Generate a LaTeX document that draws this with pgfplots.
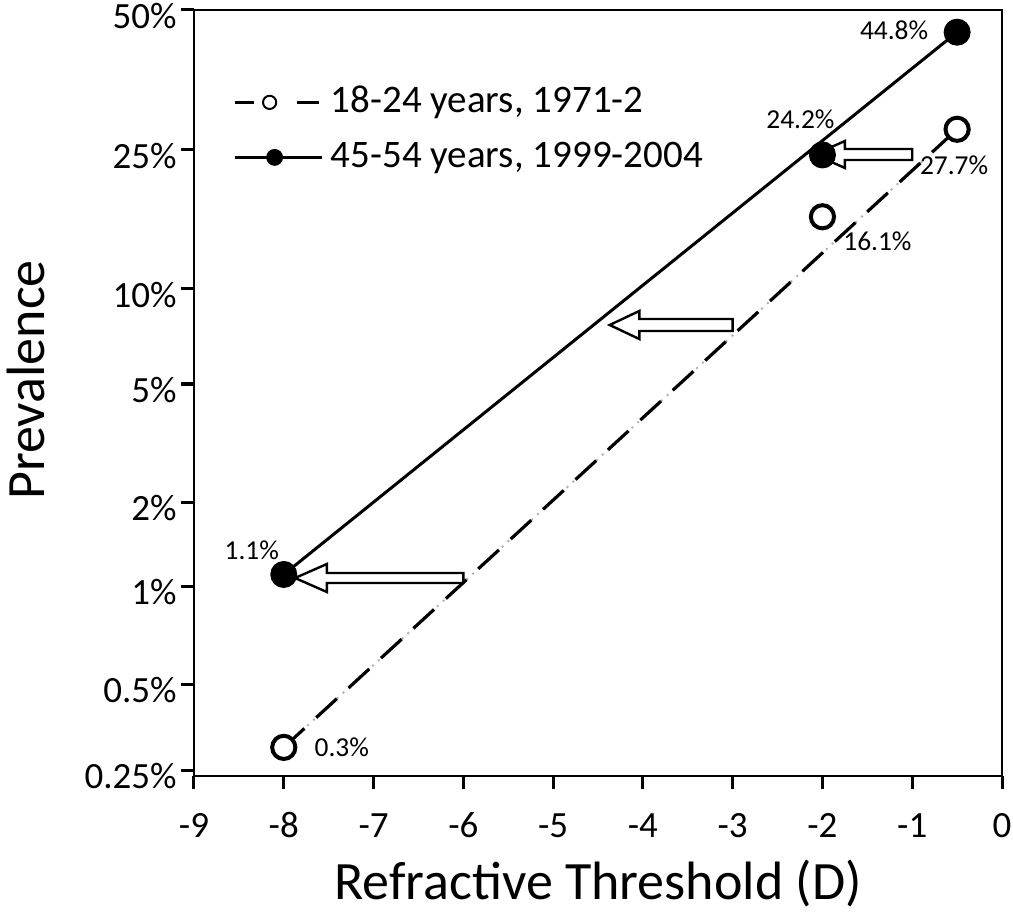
\documentclass[border=0pt]{standalone}
\usepackage{pgfplots}
\pgfplotsset{compat=1.18}
\usepackage{pgfplotstable}
\usepackage{fontspec}
\setmainfont{Carlito}
\tikzset{lab/.style={font=\fontsize{13.7}{15}\selectfont, inner sep=0pt, anchor=center}}

% prevalence (%) -> vertical position of the chart's own (piecewise log) scale
\newcommand\seg[5]{(#4+(#5-#4)*ln((#1)/(#2))/ln((#3)/(#2)))}
\newcommand\ppos[1]{ifthenelse(#1<0.5,\seg{#1}{0.25}{0.5}{6}{92},ifthenelse(#1<1,\seg{#1}{0.5}{1}{92}{190},ifthenelse(#1<2,\seg{#1}{1}{2}{190}{274},ifthenelse(#1<5,\seg{#1}{2}{5}{274}{392},ifthenelse(#1<10,\seg{#1}{5}{10}{392}{487},ifthenelse(#1<25,\seg{#1}{10}{25}{487}{626},\seg{#1}{25}{50}{626}{766}))))))}

% 18-24 years, 1971-2
\pgfplotstableread{
x v
-8 0.3
-2 16.1
-0.5 27.7
}\young
% 45-54 years, 1999-2004
\pgfplotstableread{
x v
-8 1.1
-2 24.2
-0.5 44.8
}\old

\begin{document}
\begin{tikzpicture}
\begin{axis}[name=ax, scale only axis, width=404pt, height=383pt,
  xmin=-9, xmax=0, ymin=0, ymax=766, clip=false,
  axis line style={line width=1.2pt},
  xtick={-9,-8,...,0}, xticklabels={-9,-8,-7,-6,-5,-4,-3,-2,-1,0},
  ytick={6,92,190,274,392,487,626,766},
  yticklabels={0.25\%,0.5\%,1\%,2\%,5\%,10\%,25\%,50\%},
  tick pos=left, tick align=outside, major tick length=6.5pt,
  major tick style={black, line width=1.5pt},
  /pgf/number format/assume math mode=true,
  ticklabel style={font=\fontsize{18.5}{20}\selectfont},
  xticklabel style={anchor=base, inner sep=0pt, yshift=-24pt},
  yticklabel style={anchor=east, inner sep=0pt, xshift=-2pt, yshift=-3pt},
  xlabel={Refractive Threshold (D)},
  ylabel={Prevalence},
  label style={font=\fontsize{27}{30}\selectfont},
  xlabel style={at={(axis description cs:0.5,-0.161)}, anchor=base},
  ylabel style={at={(axis description cs:-0.208,0.517)}, anchor=center},
  legend style={at={(axis description cs:0.0483,0.9034)}, anchor=north west,
    draw=none, fill=none, inner sep=0pt, row sep=9.5pt, column sep=4pt,
    font=\fontsize{19.5}{22}\selectfont,
    nodes={inner sep=0pt, text height=14pt, text depth=4pt}},
  legend cell align=left,
]
\addlegendimage{legend image code/.code={
  \draw[black, line width=1.2pt] (0pt,0pt) -- (9.5pt,0pt);
  \draw[black, line width=1.2pt] (31pt,0pt) -- (42pt,0pt);
  \draw[black, line width=1pt, fill=white] (17.5pt,0pt) circle (3.3pt);
}}
\addlegendentry{18-24 years, 1971-2}
\addlegendimage{legend image code/.code={
  \draw[black, line width=1.2pt] (0pt,0pt) -- (43.5pt,0pt);
  \fill[black] (20pt,0pt) circle (4pt);
}}
\addlegendentry{45-54 years, 1999-2004}

% trend lines (first to last point)
\addplot[gray!60, line width=1pt, dash pattern=on 1pt off 3pt, forget plot,
  skip coords between index={1}{2}] table[x=x, y expr={\ppos{\thisrow{v}}}] {\young};
\addplot[black, line width=1.6pt, dash pattern=on 14pt off 8pt, forget plot,
  skip coords between index={1}{2}] table[x=x, y expr={\ppos{\thisrow{v}}}] {\young};
\addplot[black, line width=1.5pt, forget plot,
  skip coords between index={1}{2}] table[x=x, y expr={\ppos{\thisrow{v}}}] {\old};

% markers
\addplot[only marks, mark=*, mark size=5.8pt, mark options={fill=white, draw=black, line width=2pt},
  forget plot] table[x=x, y expr={\ppos{\thisrow{v}}}] {\young};
\addplot[only marks, mark=*, mark size=6.5pt, mark options={fill=black, draw=black, line width=0.5pt},
  forget plot] table[x=x, y expr={\ppos{\thisrow{v}}}] {\old};

% value labels
\node[lab, xshift=29pt] at (axis cs:-8,{\ppos{0.3}}) {0.3\%};
\node[lab, xshift=27.5pt, yshift=-12.5pt] at (axis cs:-2,{\ppos{16.1}}) {16.1\%};
\node[lab, xshift=-1.5pt, yshift=-18pt] at (axis cs:-0.5,{\ppos{27.7}}) {27.7\%};
\node[lab, xshift=-16pt, yshift=12pt] at (axis cs:-8,{\ppos{1.1}}) {1.1\%};
\node[lab, xshift=-11pt, yshift=18pt] at (axis cs:-2,{\ppos{24.2}}) {24.2\%};
\node[lab, xshift=-31.5pt, yshift=1pt] at (axis cs:-0.5,{\ppos{44.8}}) {44.8\%};

% hollow shift arrows
\draw[black, line width=1.2pt, fill=white, line join=miter]
  (axis cs:-1,627) -- (axis cs:-1.75,627) -- (axis cs:-1.75,635) -- (axis cs:-2.085,621.5)
  -- (axis cs:-1.75,608) -- (axis cs:-1.75,616) -- (axis cs:-1,616) -- cycle;
\draw[black, line width=1.2pt, fill=white, line join=miter]
  (axis cs:-3,457) -- (axis cs:-4.04,457) -- (axis cs:-4.04,465) -- (axis cs:-4.37,451)
  -- (axis cs:-4.04,437) -- (axis cs:-4.04,445) -- (axis cs:-3,445) -- cycle;
\draw[black, line width=1.2pt, fill=white, line join=miter]
  (axis cs:-6,203) -- (axis cs:-7.52,203) -- (axis cs:-7.52,212) -- (axis cs:-7.875,198)
  -- (axis cs:-7.52,184) -- (axis cs:-7.52,193) -- (axis cs:-6,193) -- cycle;
\end{axis}
\pgfresetboundingbox
\path[use as bounding box] ([xshift=-97pt,yshift=-69.5pt]ax.south west) rectangle ([xshift=5.5pt,yshift=5pt]ax.north east);
\end{tikzpicture}
\end{document}
